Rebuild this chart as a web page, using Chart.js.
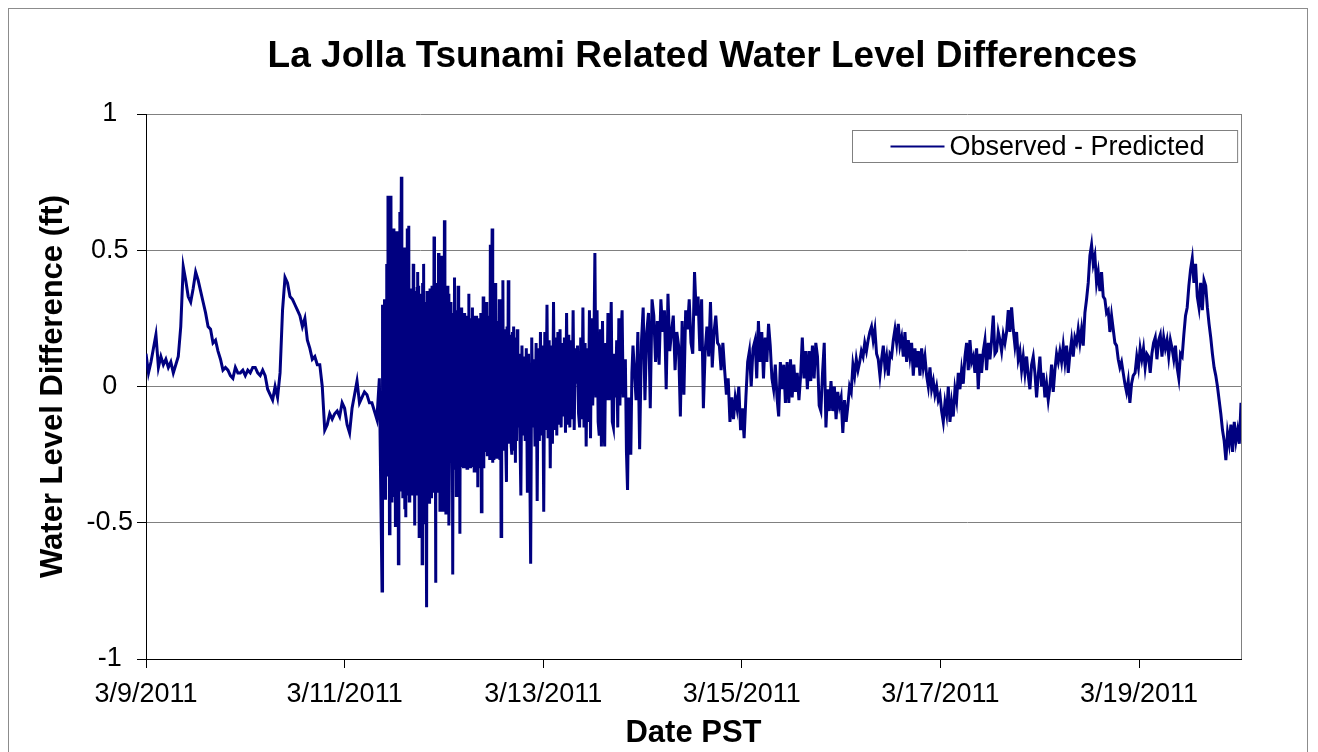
<!DOCTYPE html>
<html>
<head>
<meta charset="utf-8">
<title>La Jolla Tsunami Related Water Level Differences</title>
<script src="https://cdn.jsdelivr.net/npm/chart.js@4.4.1/dist/chart.umd.min.js"></script>
<style>
  html, body { margin: 0; padding: 0; background: #fff; }
  #wrap { width: 1318px; height: 752px; position: relative; }
</style>
</head>
<body>
<div id="wrap"><canvas id="levelChart"></canvas></div>
<script>
// Observed - Predicted water level (ft), hours since 3/9/2011 00:00 PST
// each chunk: [first hour, last hour] and the values spread evenly in between
const spanA = [0, 56.4];
const levelsA = [0.12, 0.05, 0.09, 0.14, 0.19, 0.07, 0.11, 0.08, 0.10, 0.07,
  0.09, 0.05, 0.08, 0.11, 0.22, 0.44, 0.39, 0.33, 0.31, 0.36,
  0.42, 0.39, 0.35, 0.31, 0.27, 0.22, 0.21, 0.16, 0.17, 0.13,
  0.10, 0.06, 0.07, 0.06, 0.04, 0.03, 0.07, 0.05, 0.05, 0.06,
  0.04, 0.06, 0.05, 0.07, 0.07, 0.05, 0.04, 0.06, 0.04, -0.01,
  -0.03, -0.05, 0.00, -0.04, 0.05, 0.28, 0.40, 0.38, 0.33, 0.32,
  0.30, 0.28, 0.26, 0.22, 0.25, 0.17, 0.14, 0.10, 0.11, 0.08,
  0.08, 0.00, -0.16, -0.14, -0.10, -0.12, -0.10, -0.09, -0.11, -0.06,
  -0.08, -0.14, -0.17, -0.08, -0.03, 0.02, -0.06, -0.04, -0.02, -0.03,
  -0.06, -0.06, -0.09, -0.12, 0.03];

// tsunami arrival, 3/11 afternoon
const spanB = [57.05, 73.2];
const levelsB = [-0.75, 0.30, -0.20, 0.27, -0.38, 0.32, -0.41, 0.25, -0.30, 0.45,
  -0.33, 0.28, 0.70, -0.30, 0.35, -0.54, 0.38, -0.40, 0.70, -0.42,
  0.36, -0.37, 0.30, -0.35, 0.58, -0.40, 0.33, -0.51, 0.34, -0.38,
  0.57, -0.36, 0.40, -0.65, 0.37, -0.30, 0.64, -0.38, 0.42, 0.77,
  -0.35, 0.30, -0.41, 0.40, -0.33, 0.51, -0.45, 0.35, -0.48, 0.32,
  -0.36, 0.58, -0.40, 0.38, 0.59, -0.42, 0.30, -0.17, 0.36, -0.28,
  -0.34, 0.33, -0.40, 0.45, -0.38, 0.30, -0.51, 0.35, -0.30, 0.34,
  -0.40, 0.36, 0.42, -0.33, 0.37, -0.55, 0.30, -0.42, 0.34, -0.36,
  0.32, -0.65, 0.38, -0.35, 0.45, -0.40, 0.31, -0.50, 0.28, -0.37,
  -0.81, 0.35, -0.30, 0.31, -0.38, 0.33, -0.43, 0.36, -0.32, 0.30,
  -0.41, 0.37, -0.39, 0.33, -0.36, 0.55, -0.37, 0.30, -0.72, 0.32,
  -0.34, -0.39, 0.38, -0.31, 0.49, -0.39, 0.34, -0.46, 0.30, -0.38,
  0.48, -0.35, 0.33, -0.46, 0.36, -0.40, 0.61, -0.33, 0.30, -0.47,
  0.35, -0.37, 0.37, -0.30, 0.34, -0.51];

const spanC = [73.7, 90.15];
const levelsC = [0.31, -0.28, 0.25, -0.69, 0.27, -0.26, 0.40, -0.30, 0.22, -0.40,
  0.28, -0.25, 0.37, -0.27, 0.24, -0.54, 0.26, -0.29, 0.29, -0.25,
  0.22, -0.30, 0.27, -0.24, 0.24, -0.30, 0.26, -0.30, 0.22, -0.27,
  0.34, -0.28, 0.25, -0.30, 0.24, -0.26, 0.29, -0.29, 0.23, -0.31,
  0.26, -0.28, 0.26, -0.27, 0.22, -0.37, 0.25, -0.30, 0.23, -0.26,
  0.27, -0.46, 0.24, -0.28, 0.33, -0.30, 0.25, -0.24, 0.28, -0.22,
  0.31, -0.25, 0.26, -0.18, 0.23, -0.27, 0.52, -0.24, 0.30, 0.58,
  -0.28, 0.25, -0.27, 0.27, -0.22, 0.38, -0.26, 0.24, -0.18, 0.22,
  -0.25, 0.32, -0.27, 0.20, -0.55, 0.25, -0.23, 0.39, -0.22, 0.21,
  -0.19, 0.20, -0.24, -0.35, 0.22, -0.20, 0.39, -0.21, 0.18, -0.06,
  0.19, -0.22, -0.25, 0.20, -0.18, 0.22, -0.23, 0.17, -0.28, 0.18,
  -0.20, 0.21, -0.15, 0.12, 0.05];

const spanD = [90.6, 117.7];
const levelsD = [-0.40, 0.15, -0.18, 0.11, -0.20, 0.14, -0.39, 0.12, -0.20, -0.65,
  0.18, -0.15, 0.10, -0.22, 0.16, -0.42, 0.14, -0.20, 0.20, -0.18,
  0.15, -0.46, 0.20, -0.16, 0.30, -0.19, 0.17, -0.30, 0.15, -0.21,
  0.31, -0.16, 0.18, -0.18, 0.20, -0.14, 0.21, -0.15, 0.16, -0.11,
  0.18, -0.17, 0.27, -0.14, 0.19, -0.15, 0.17, -0.12, 0.28, -0.16,
  0.14, 0.01, 0.15, -0.10, -0.15, 0.18, -0.12, 0.29, -0.15, 0.16,
  -0.22, 0.14, -0.13, 0.28, -0.19, 0.25, -0.07, 0.12, 0.49, -0.04,
  0.28, -0.13, -0.18, 0.21, -0.22, 0.24, -0.13, -0.22, 0.16, -0.05,
  0.27, -0.05, 0.09, 0.31, -0.13, -0.15, 0.12, -0.04, 0.17, -0.15,
  0.25, -0.07, 0.18, 0.28, -0.04, 0.04, 0.10, -0.24, -0.38, -0.04,
  -0.18, -0.25, 0.05, 0.15];

const spanE = [118.45, 146.7];
const levelsE = [-0.05, 0.20, -0.23, 0.16, 0.29, -0.05, 0.20, 0.27, -0.08, 0.32,
  0.26, 0.09, 0.24, 0.08, 0.32, 0.20, 0.28, -0.01, 0.34, 0.13,
  0.20, 0.26, 0.06, 0.20, 0.15, -0.11, 0.24, -0.03, 0.28, 0.21,
  0.32, 0.16, 0.12, 0.42, 0.26, 0.33, 0.13, 0.32, -0.08, 0.13,
  0.22, 0.11, 0.31, 0.07, 0.20, 0.26, 0.16, 0.15, 0.06, 0.16,
  0.06, -0.03, 0.03, -0.13, -0.04, -0.12, -0.04, -0.08, 0.00, -0.16,
  -0.08, -0.19, -0.04, 0.09, 0.13, 0.00, 0.14];

const spanF = [147.2, 178.2];
const levelsF = [0.17, 0.03, 0.24, 0.09, 0.20, 0.03, 0.18, 0.09, 0.23, 0.15,
  0.03, -0.01, 0.08, -0.04, -0.11, 0.09, -0.01, 0.08, -0.06, 0.09,
  -0.06, 0.10, -0.04, 0.08, -0.02, 0.05, -0.05, 0.04, 0.18, 0.03,
  0.13, -0.01, 0.13, 0.02, 0.15, 0.03, 0.16, 0.11, -0.07, -0.09,
  0.05, 0.16, -0.15, -0.01, -0.09, 0.02, -0.09, 0.00, -0.12, -0.02,
  -0.07, -0.04, -0.17, -0.05, -0.13, -0.07, 0.00, -0.02, 0.08, 0.04,
  0.10, 0.06, 0.09, 0.13, 0.11, 0.16, 0.13, 0.17, 0.20, 0.22,
  0.17, 0.21, 0.12, 0.10, 0.04, 0.10, 0.15];

const spanG = [178.6, 208.4];
const levelsG = [0.07, 0.11, 0.04, 0.12, 0.11, 0.17, 0.21, 0.16, 0.23, 0.15,
  0.18, 0.11, 0.20, 0.09, 0.17, 0.11, 0.16, 0.04, 0.14, 0.07,
  0.13, 0.04, 0.14, 0.07, 0.11, 0.04, 0.00, 0.07, -0.01, 0.02,
  -0.03, 0.00, -0.05, -0.03, -0.09, -0.13, -0.06, -0.10, 0.00, -0.13,
  -0.06, -0.11, -0.01, -0.05, 0.05, -0.01, 0.06, 0.01, 0.11, 0.16,
  0.06, 0.17, 0.09, 0.11, 0.05, 0.14, -0.01, 0.12, 0.05, 0.13,
  0.17, 0.06, 0.16, 0.10, 0.17, 0.26, 0.12, 0.13, 0.20, 0.17,
  0.13, 0.19, 0.16, 0.20, 0.28];

const spanH = [208.8, 238.6];
const levelsH = [0.20, 0.29, 0.21, 0.15, 0.20, 0.10, 0.13, 0.06, 0.11, 0.05,
  0.11, 0.04, -0.01, 0.08, 0.11, 0.05, -0.04, 0.04, 0.11, 0.00,
  0.05, -0.04, 0.01, -0.05, 0.00, 0.08, -0.02, 0.06, 0.12, 0.09,
  0.13, 0.09, 0.15, 0.09, 0.15, 0.05, 0.12, 0.17, 0.11, 0.18,
  0.16, 0.21, 0.16, 0.21, 0.15, 0.27, 0.32, 0.38, 0.48, 0.52,
  0.45, 0.48, 0.38, 0.42, 0.35, 0.42, 0.33, 0.32, 0.27, 0.28,
  0.20, 0.26, 0.21, 0.16, 0.15, 0.10, 0.07, 0.09, 0.05, 0.01,
  -0.02, 0.02, -0.06, 0.01, 0.04];

const spanI = [239.05, 264.65];
const levelsI = [0.05, 0.11, 0.07, 0.14, 0.10, 0.14, 0.07, 0.12, 0.11, 0.05,
  0.12, 0.16, 0.18, 0.10, 0.17, 0.19, 0.11, 0.18, 0.14, 0.17,
  0.11, 0.17, 0.14, 0.10, 0.15, 0.07, 0.03, 0.12, 0.11, 0.19,
  0.26, 0.29, 0.37, 0.43, 0.47, 0.38, 0.45, 0.33, 0.29, 0.38,
  0.28, 0.39, 0.37, 0.29, 0.23, 0.18, 0.12, 0.07, 0.04, 0.00,
  -0.05, -0.10, -0.16, -0.20, -0.27, -0.17, -0.21, -0.14, -0.24, -0.13,
  -0.20, -0.16, -0.21, -0.06];

const chunks = [
  [spanA, levelsA], [spanB, levelsB], [spanC, levelsC], [spanD, levelsD], [spanE, levelsE],
  [spanF, levelsF], [spanG, levelsG], [spanH, levelsH], [spanI, levelsI]
];

const seriesLabel = 'Observed - Predicted';
const chartTitle = 'La Jolla Tsunami Related Water Level Differences';
const xTitle = 'Date PST';
const yTitle = 'Water Level Difference (ft)';
const firstDay = 9; // March 9, 2011
const hoursMax = 264.65;

// Armar los puntos
let points = [];
chunks.forEach(([span, vals]) => {
    const step = (span[1] - span[0]) / (vals.length - 1);
    vals.forEach((v, i) => points.push({ x: span[0] + i * step, y: v }));
});

const FONT = '"Liberation Sans", Arial, sans-serif';

// Titulo, leyenda y marcos
const chartDecor = {
  id: 'chartDecor',
  beforeDraw(chart) {
    const ctx = chart.ctx;
    ctx.save();
    ctx.fillStyle = '#fff';
    ctx.fillRect(0, 0, chart.width, chart.height);
    ctx.restore();
  },
  afterDraw(chart) {
    const ctx = chart.ctx;
    const area = chart.chartArea;
    ctx.save();

    // marco exterior
    ctx.strokeStyle = '#8c8c8c';
    ctx.lineWidth = 1;
    ctx.strokeRect(8.5, 8.5, chart.width - 19, chart.height + 20);

    // borde derecho del area
    ctx.strokeStyle = '#808080';
    ctx.beginPath();
    ctx.moveTo(Math.round(area.right) + 0.5, area.top);
    ctx.lineTo(Math.round(area.right) + 0.5, area.bottom);
    ctx.stroke();

    // titulo
    ctx.fillStyle = '#000';
    ctx.font = 'bold 37px ' + FONT;
    ctx.textAlign = 'center';
    ctx.textBaseline = 'middle';
    ctx.fillText(chartTitle, (area.left + area.right) / 2 + 9, 57);

    // leyenda
    const ds = chart.data.datasets[0];
    ctx.font = '27px ' + FONT;
    const textW = ctx.measureText(ds.label).width;
    const boxW = 38 + 54 + 5 + textW + 33;
    const boxH = 32;
    const bx = Math.round(area.right - 4 - boxW) + 0.5;
    const by = Math.round(area.top + 16) + 0.5;
    ctx.fillStyle = '#fff';
    ctx.fillRect(bx, by, boxW, boxH);
    ctx.strokeStyle = '#808080';
    ctx.strokeRect(bx, by, boxW, boxH);
    const midY = by + boxH / 2;
    ctx.strokeStyle = ds.borderColor;
    ctx.lineWidth = 2;
    ctx.beginPath();
    ctx.moveTo(bx + 38, midY);
    ctx.lineTo(bx + 92, midY);
    ctx.stroke();
    ctx.fillStyle = '#000';
    ctx.textAlign = 'left';
    ctx.fillText(ds.label, bx + 97, midY + 1);
    ctx.restore();
  }
};

const ctx = document.getElementById('levelChart');

new Chart(ctx, {
    type: 'line',
    data: {
        datasets: [{
            label: seriesLabel,
            data: points,
            borderColor: '#000080',
            backgroundColor: '#000080',
            borderWidth: 3,
            pointRadius: 0,
            tension: 0,
            fill: false
        }]
    },
    options: {
        responsive: true,
        maintainAspectRatio: false,
        animation: false,
        layout: { padding: { top: 114, right: 77, bottom: 0, left: 0 } },
        plugins: {
            legend: { display: false },
            title: { display: false },
            tooltip: { enabled: false }
        },
        scales: {
            x: {
                type: 'linear',
                min: 0,
                max: hoursMax,
                afterFit: scale => { scale.height = 93; },
                ticks: {
                    stepSize: 48,
                    includeBounds: false,
                    autoSkip: false,
                    maxRotation: 0,
                    padding: 10,
                    color: '#000',
                    font: { family: FONT, size: 27 },
                    callback: v => '3/' + (firstDay + v / 24) + '/2011'
                },
                grid: {
                    drawOnChartArea: false,
                    drawTicks: true,
                    tickLength: 9,
                    tickColor: '#000'
                },
                border: { color: '#000', width: 1 },
                title: {
                    display: true,
                    text: xTitle,
                    color: '#000',
                    font: { family: FONT, size: 31, weight: 'bold' },
                    padding: { top: 0, bottom: 0 }
                }
            },
            y: {
                min: -1,
                max: 1,
                afterFit: scale => { scale.width = 146; },
                ticks: {
                    stepSize: 0.5,
                    padding: 4,
                    crossAlign: 'center',
                    color: '#000',
                    font: { family: FONT, size: 27 },
                    callback: v => String(v)
                },
                grid: {
                    color: '#808080',
                    lineWidth: 1,
                    tickLength: 9,
                    tickColor: '#000'
                },
                border: { color: '#000', width: 1 },
                title: {
                    display: true,
                    text: yTitle,
                    color: '#000',
                    font: { family: FONT, size: 31, weight: 'bold' },
                    padding: { top: 35, bottom: 0 }
                }
            }
        }
    },
    plugins: [chartDecor]
});
</script>
</body>
</html>
